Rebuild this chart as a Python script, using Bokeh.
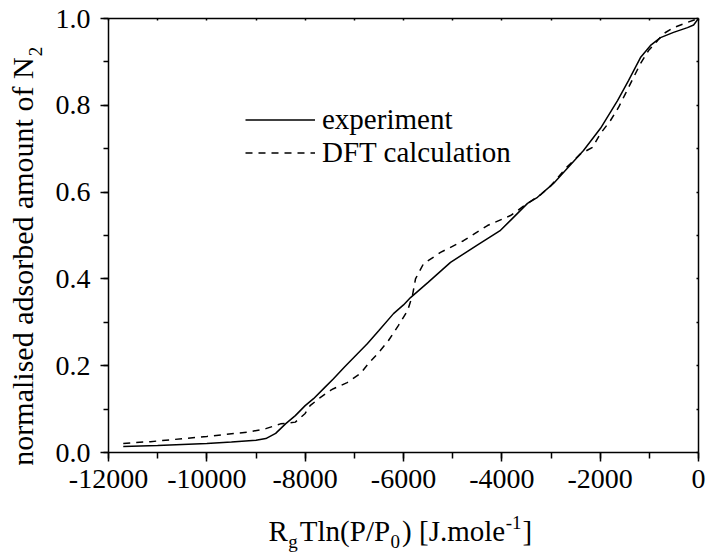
import math
from bokeh.plotting import figure
from bokeh.layouts import row, column
from bokeh.models import (Range1d, SingleIntervalTicker, LinearAxis, NumeralTickFormatter,
                          Label, Legend, LegendItem)
from bokeh.embed import file_html
from bokeh.resources import INLINE

# ---------------- data ----------------
exp_x = [-11700, -11000, -10000, -9500, -9000, -8800, -8600, -8400, -8200, -8000,
         -7830, -7600, -7424, -7200, -6732, -6500, -6203, -6000, -5857, -5500,
         -5044, -4500, -4027, -3478, -3275, -2949, -2339, -1993, -1647, -1424,
         -1180, -976, -773, -508, -224, -100, 0]
exp_y = [0.014, 0.016, 0.021, 0.024, 0.028, 0.032, 0.044, 0.066, 0.085, 0.108,
         0.124, 0.150, 0.170, 0.197, 0.251, 0.281, 0.320, 0.340, 0.357, 0.392,
         0.438, 0.478, 0.512, 0.574, 0.588, 0.620, 0.696, 0.747, 0.811, 0.857,
         0.910, 0.938, 0.956, 0.968, 0.979, 0.985, 1.000]

dft_x = [-11700, -11146, -10000, -9500, -9153, -8800, -8500, -8200, -8000, -7900,
         -7688, -7485, -7424, -7146, -6875, -6712, -6508, -6305, -6102, -5917,
         -5817, -5756, -5593, -5247, -4780, -4292, -3824, -3478, -3200, -3000,
         -2700, -2400, -2156, -1993, -1790, -1627, -1485, -1322, -1180, -1017,
         -834, -712, -508, -224, 0]
dft_y = [0.021, 0.025, 0.037, 0.043, 0.047, 0.055, 0.066, 0.070, 0.090, 0.108,
         0.127, 0.143, 0.147, 0.161, 0.182, 0.205, 0.230, 0.258, 0.293, 0.327,
         0.362, 0.400, 0.435, 0.461, 0.488, 0.523, 0.546, 0.574, 0.595, 0.615,
         0.655, 0.688, 0.703, 0.735, 0.765, 0.795, 0.827, 0.864, 0.896, 0.926,
         0.949, 0.965, 0.979, 0.991, 1.000]

series_labels = ["experiment", "DFT calculation"]
x_title = [("R", "main"), ("g", "sub"), ("Tln(P/P", "main"), ("0", "sub"),
           (") [J.mole", "main"), ("-1", "sup"), ("]", "main")]
y_title_main = "normalised adsorbed amount of N"
y_title_sub = "2"

FONT = "Liberation Serif"

LEFT_W = 45        # strip holding the y-axis title
BOTTOM_H = 50      # strip holding the x-axis title
TOTAL_W, TOTAL_H = 706, 555
BORDER_L, BORDER_R = 63, 8

p = figure(width=TOTAL_W - LEFT_W, height=TOTAL_H - BOTTOM_H,
           output_backend="svg", toolbar_location=None,
           x_range=Range1d(-12000, 0), y_range=Range1d(0, 1),
           x_axis_type=None, y_axis_type=None,
           min_border_left=BORDER_L, min_border_right=BORDER_R,
           min_border_top=18, min_border_bottom=53)
p.outline_line_color = None
p.background_fill_color = "white"
p.border_fill_color = "white"


def style_axis(ax, tick_font="28px"):
    ax.axis_line_color = "black"
    ax.axis_line_width = 1.5
    ax.major_tick_line_color = "black"
    ax.major_tick_line_width = 1.5
    ax.minor_tick_line_color = "black"
    ax.minor_tick_line_width = 1.5
    ax.major_label_text_font = FONT
    ax.major_label_text_font_size = tick_font
    ax.major_label_text_color = "black"


xb = LinearAxis(ticker=SingleIntervalTicker(interval=2000, num_minor_ticks=2),
                formatter=NumeralTickFormatter(format="0"))
style_axis(xb)
xb.major_tick_in = 0
xb.major_tick_out = 9
xb.minor_tick_in = 0
xb.minor_tick_out = 6
xb.major_label_standoff = 8
p.add_layout(xb, "below")

yl = LinearAxis(ticker=SingleIntervalTicker(interval=0.2, num_minor_ticks=2),
                formatter=NumeralTickFormatter(format="0.0"))
style_axis(yl)
yl.major_tick_in = 0
yl.major_tick_out = 8
yl.minor_tick_in = 0
yl.minor_tick_out = 5
yl.major_label_standoff = 10
p.add_layout(yl, "left")

xt = LinearAxis(ticker=SingleIntervalTicker(interval=1000, num_minor_ticks=0))
style_axis(xt, "1px")
xt.major_tick_in = 2
xt.major_tick_out = 0
xt.minor_tick_line_color = None
xt.major_label_text_color = None
xt.major_label_standoff = 0
p.add_layout(xt, "above")

yr = LinearAxis(ticker=SingleIntervalTicker(interval=0.1, num_minor_ticks=0))
style_axis(yr, "1px")
yr.major_tick_in = 2
yr.major_tick_out = 0
yr.minor_tick_line_color = None
yr.major_label_text_color = None
yr.major_label_standoff = 0
p.add_layout(yr, "right")

r1 = p.line(exp_x, exp_y, line_color="black", line_width=1.5)
r2 = p.line(dft_x, dft_y, line_color="black", line_width=1.5, line_dash="7 6")

legend = Legend(items=[LegendItem(label=series_labels[0], renderers=[r1]),
                       LegendItem(label=series_labels[1], renderers=[r2])],
                location=(137, 283), orientation="vertical",
                glyph_width=70, glyph_height=31, label_height=31, spacing=0,
                padding=0, margin=0, label_standoff=7,
                label_text_font=FONT, label_text_font_size="29px",
                label_text_color="black",
                border_line_color=None, background_fill_alpha=0)
p.add_layout(legend)

# ---- axis titles with sub/superscripts, drawn in their own strips ----
WID = {'R': .667, 'g': .5, 'T': .611, 'l': .278, 'n': .5, '(': .333, 'P': .556, '/': .278,
       '0': .5, ')': .333, ' ': .25, '[': .333, 'J': .389, '.': .25, 'm': .778, 'o': .5,
       'e': .444, '-': .333, '1': .5, ']': .333, 'N': .722, '2': .5, 'r': .333, 'a': .444,
       'i': .278, 's': .389, 'd': .5, 'b': .5, 'u': .5, 't': .278, 'f': .333}


def tw(s, size):
    return sum(WID.get(c, .5) for c in s) * size


def strip(w, h, left=0, right=0):
    f = figure(width=w, height=h, output_backend="svg", toolbar_location=None,
               x_axis_type=None, y_axis_type=None, min_border=0,
               min_border_left=left, min_border_right=right,
               x_range=Range1d(0, 1), y_range=Range1d(0, 1))
    f.outline_line_color = None
    f.background_fill_color = "white"
    f.border_fill_color = "white"
    return f


K = 0.41           # measured anchor-to-baseline offset, as a fraction of font size
MAIN, SMALL, YMAIN = 29, 19, 30
sizes = {"main": MAIN, "sub": SMALL, "sup": SMALL}
base_y = {"main": 13, "sub": 6, "sup": 25}      # wanted baselines, px above strip bottom
gaps = {"main": 0.5, "sub": 2, "sup": 1}

# the strip's frame lines up with the main frame (starts at x = 108 in the page)
bottom = strip(TOTAL_W - LEFT_W, BOTTOM_H, left=BORDER_L, right=BORDER_R)
cx = 268 - (LEFT_W + BORDER_L)
for txt, kind in x_title:
    s = sizes[kind]
    bottom.add_layout(Label(x=cx, y=base_y[kind] + K * s, x_units="screen", y_units="screen",
                            text=txt, text_font=FONT, text_font_size=f"{s}px",
                            text_align="left", text_baseline="alphabetic",
                            text_color="black"))
    cx += tw(txt, s) + gaps[kind]

left = strip(LEFT_W, TOTAL_H)
main_len = tw(y_title_main, YMAIN)
ystart = (TOTAL_H - 256) - (main_len + 10) / 2
left.add_layout(Label(x=34 - K * YMAIN, y=ystart, x_units="screen", y_units="screen",
                      text=y_title_main, text_font=FONT, text_font_size=f"{YMAIN}px",
                      angle=math.pi / 2, text_align="left", text_baseline="alphabetic",
                      text_color="black"))
left.add_layout(Label(x=43 - K * SMALL, y=ystart + main_len + 1,
                      x_units="screen", y_units="screen",
                      text=y_title_sub, text_font=FONT, text_font_size=f"{SMALL}px",
                      angle=math.pi / 2, text_align="left", text_baseline="alphabetic",
                      text_color="black"))

layout = row(left, column(p, bottom, spacing=0), spacing=0)

open("out.html", "w").write(file_html(layout, INLINE))
